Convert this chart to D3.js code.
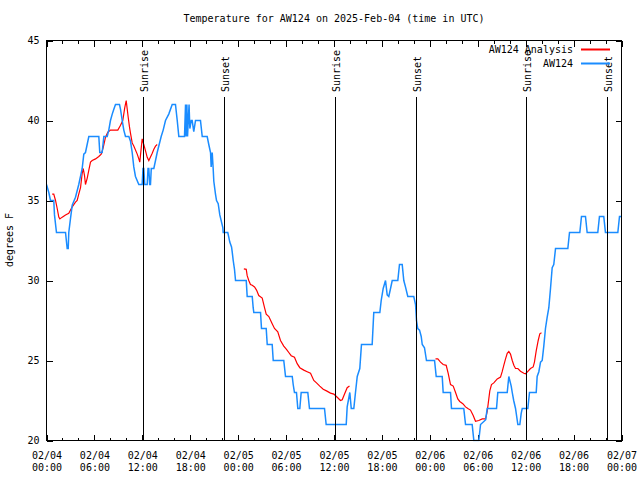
<!DOCTYPE html>
<html><head><meta charset="utf-8">
<script src="https://cdn.jsdelivr.net/npm/d3@7"></script>
<style>
html,body{margin:0;padding:0;background:#fff;}
svg{display:block;}
text{font-family:"DejaVu Sans Mono","Liberation Mono",monospace;font-size:10px;fill:#000;}
</style></head><body>
<svg id="chart" width="640" height="480"></svg>
<script>
const chartTitle = "Temperature for AW124 on 2025-Feb-04 (time in UTC)";
const yAxisLabel = "degrees F";
const seriesNames = ["AW124 Analysis", "AW124"];
const seriesColors = ["#ff0000", "#1a8cff"];

const xTickHours = [0,6,12,18,24,30,36,42,48,54,60,66,72];
const xTickDays  = ["02/04","02/04","02/04","02/04","02/05","02/05","02/05","02/05","02/06","02/06","02/06","02/06","02/07"];
const xTickTimes = ["00:00","06:00","12:00","18:00","00:00","06:00","12:00","18:00","00:00","06:00","12:00","18:00","00:00"];
const yTickValues = [20,25,30,35,40,45];

const sunriseHours = [12.05, 36.07, 60.02];
const sunsetHours  = [22.2, 46.27, 70.2];

// AW124 observations: [hours since 02/04 00:00 UTC, deg F]
const aw124 = [[0.00,36.0],[0.29,35.5],[0.50,35.0],[0.91,35.0],[1.00,34.1],[1.25,33.0],[2.38,33.0],[2.59,32.0],[2.72,32.0],[2.79,33.0],[3.01,33.9],[3.22,34.7],[3.63,35.2],[4.04,36.0],[4.47,37.0],[4.67,37.9],[4.88,38.0],[5.30,39.0],[6.55,39.0],[6.67,38.0],[6.97,38.0],[7.18,39.0],[7.60,39.0],[7.80,39.4],[8.01,40.0],[8.23,40.4],[8.43,40.7],[8.64,41.0],[9.14,41.0],[9.27,40.7],[9.48,40.0],[9.68,39.4],[9.89,39.0],[10.31,39.0],[10.52,38.7],[10.73,38.0],[10.93,37.1],[11.14,36.5],[11.56,36.0],[11.98,36.0],[12.08,37.0],[12.18,37.0],[12.30,36.0],[12.61,36.0],[12.71,37.0],[12.81,37.0],[12.92,36.0],[13.02,36.0],[13.12,37.0],[13.44,37.0],[13.65,37.5],[13.86,38.0],[14.36,39.0],[14.61,39.4],[14.90,40.0],[15.31,40.4],[15.74,41.0],[16.15,41.0],[16.37,40.0],[16.57,39.0],[17.28,39.0],[17.41,41.0],[17.48,39.0],[17.58,41.0],[17.66,39.0],[17.85,41.0],[17.95,39.5],[18.12,40.0],[18.24,40.0],[18.44,39.3],[18.66,40.0],[19.28,40.0],[19.50,39.0],[20.12,39.0],[20.32,38.5],[20.54,38.0],[20.62,37.1],[20.75,38.0],[20.87,37.0],[20.95,36.2],[21.16,35.4],[21.29,35.0],[21.50,34.8],[21.70,34.1],[22.08,33.3],[22.13,33.0],[22.70,33.0],[22.83,32.7],[22.95,32.4],[23.17,32.1],[23.25,31.8],[23.38,31.25],[23.54,30.7],[23.67,30.0],[25.01,30.0],[25.13,29.0],[25.76,29.0],[25.88,28.3],[25.96,28.0],[26.80,28.0],[26.92,27.0],[27.51,27.0],[27.64,26.0],[28.26,26.0],[28.39,25.0],[29.71,25.0],[29.93,24.0],[30.77,24.0],[30.89,23.5],[31.05,23.0],[31.30,23.0],[31.47,22.0],[31.72,22.0],[31.89,23.0],[32.72,23.0],[32.93,22.0],[34.81,22.0],[35.02,21.0],[37.53,21.0],[37.65,22.1],[37.98,23.0],[38.16,22.0],[38.48,22.0],[38.69,23.0],[38.91,24.0],[39.23,24.5],[39.44,26.0],[40.78,26.0],[40.98,28.0],[41.74,28.0],[41.91,28.75],[42.16,29.5],[42.45,30.0],[42.66,29.1],[42.86,29.0],[43.08,29.5],[43.29,30.0],[43.99,30.0],[44.20,31.0],[44.54,31.0],[44.74,30.0],[44.95,29.6],[45.24,29.0],[45.99,29.0],[46.21,28.5],[46.33,27.5],[46.49,27.0],[46.71,26.9],[46.92,26.5],[47.05,26.0],[47.33,25.8],[47.58,25.0],[48.59,25.0],[48.80,24.0],[49.55,24.0],[49.67,23.0],[50.59,23.0],[50.71,22.0],[52.25,22.0],[52.47,21.0],[53.30,21.0],[53.51,20.0],[54.13,20.0],[54.35,21.0],[55.00,21.3],[55.18,22.0],[56.35,22.0],[56.51,23.0],[57.69,23.0],[57.89,24.0],[58.19,23.4],[58.32,23.0],[58.50,22.5],[58.73,22.0],[59.02,21.0],[59.27,21.0],[59.44,21.7],[59.57,22.0],[60.27,22.0],[60.48,23.0],[61.32,23.0],[61.44,24.0],[61.65,24.3],[61.86,24.9],[62.07,25.0],[62.27,25.9],[62.48,27.0],[62.69,27.7],[62.90,28.3],[63.11,29.5],[63.32,30.8],[63.52,31.0],[63.74,32.0],[65.28,32.0],[65.49,33.0],[66.78,33.0],[66.99,34.0],[67.49,34.0],[67.70,33.0],[69.03,33.0],[69.24,34.0],[69.78,34.0],[69.99,33.0],[71.54,33.0],[71.75,34.0],[72.00,34.0]];

// AW124 analysis, three separate runs
const analysisRun1 = [[0.71,35.4],[0.91,35.4],[1.13,35.0],[1.34,34.5],[1.54,33.96],[1.67,33.85],[1.97,33.96],[2.38,34.1],[2.79,34.2],[3.22,34.6],[3.63,34.9],[3.84,35.0],[4.04,35.4],[4.26,35.8],[4.47,36.7],[4.60,37.0],[4.76,36.56],[4.88,36.0],[5.10,36.4],[5.30,36.9],[5.51,37.4],[5.72,37.5],[6.14,37.6],[6.55,37.75],[6.85,37.9],[7.10,38.3],[7.39,38.96],[7.68,39.27],[8.01,39.4],[8.43,39.4],[8.93,39.4],[9.27,39.7],[9.55,40.0],[9.80,40.8],[9.98,41.25],[10.11,40.7],[10.23,40.2],[10.39,39.6],[10.52,39.2],[10.73,38.6],[10.93,38.4],[11.36,37.9],[11.56,37.6],[11.68,37.4],[11.98,38.85],[12.18,38.5],[12.40,38.1],[12.61,37.7],[12.81,37.5],[13.24,37.96],[13.44,38.2],[13.65,38.4],[13.86,38.5]];
const analysisRun2 = [[24.71,30.73],[25.01,30.7],[25.13,30.3],[25.33,30.0],[25.54,29.75],[25.76,29.7],[26.05,29.6],[26.30,29.4],[26.58,29.06],[27.01,28.9],[27.30,28.3],[27.51,27.9],[27.84,27.75],[28.26,27.3],[28.55,27.0],[28.96,26.8],[29.30,26.25],[29.71,25.9],[30.05,25.7],[30.34,25.5],[30.64,25.3],[31.05,25.2],[31.39,24.8],[31.72,24.55],[32.22,24.4],[32.64,24.3],[33.06,24.2],[33.47,23.75],[33.81,23.6],[34.22,23.4],[34.65,23.2],[35.06,23.1],[35.56,22.96],[35.98,22.9],[36.40,22.7],[36.81,22.5],[37.03,22.55],[37.32,22.9],[37.65,23.3],[37.94,23.4]];
const analysisRun3 = [[48.71,25.1],[49.00,25.1],[49.34,24.9],[49.67,24.75],[50.05,24.7],[50.30,24.2],[50.59,23.5],[50.93,23.4],[51.22,23.0],[51.50,22.6],[51.75,22.44],[52.13,22.3],[52.47,22.1],[52.76,22.0],[53.09,21.9],[53.43,21.56],[53.72,21.2],[54.13,21.25],[54.56,21.35],[54.97,21.35],[55.18,21.8],[55.31,22.3],[55.51,23.1],[55.72,23.5],[56.01,23.6],[56.44,23.85],[56.85,23.96],[57.06,24.3],[57.26,24.7],[57.48,25.1],[57.69,25.45],[57.89,25.56],[58.10,25.4],[58.32,25.0],[58.52,24.7],[58.73,24.5],[59.02,24.5],[59.35,24.33],[59.77,24.2],[59.98,24.17],[60.19,24.27],[60.60,24.5],[60.94,24.6],[61.10,24.9],[61.32,25.6],[61.57,26.25],[61.77,26.67],[61.98,26.73]];

const svg = d3.select("#chart");
const L = 46.5, R = 621.5, T = 40.5, B = 440.5;
const x = d3.scaleLinear().domain([0,72]).range([L,R]);
const y = d3.scaleLinear().domain([20,45]).range([B,T]);

// title
svg.append("text").attr("x", 334).attr("y", 22).attr("text-anchor","middle").text(chartTitle);
// y label
svg.append("text").attr("transform","translate(13,240) rotate(-90)").attr("text-anchor","middle").text(yAxisLabel);

const minorHours = d3.range(0,73,2).filter(h => h % 6 !== 0);

// axes (ticks inward)
const gB = svg.append("g").attr("transform",`translate(0,${B})`)
  .call(d3.axisBottom(x).tickValues(xTickHours).tickSizeInner(-6).tickSizeOuter(0).tickFormat(""));
svg.append("g").attr("transform",`translate(0,${B})`)
  .call(d3.axisBottom(x).tickValues(minorHours).tickSizeInner(-3).tickSizeOuter(0).tickFormat(""));
svg.append("g").attr("transform",`translate(0,${T})`)
  .call(d3.axisTop(x).tickValues(xTickHours).tickSizeInner(-6).tickSizeOuter(0).tickFormat(""));
svg.append("g").attr("transform",`translate(0,${T})`)
  .call(d3.axisTop(x).tickValues(minorHours).tickSizeInner(-3).tickSizeOuter(0).tickFormat(""));
svg.append("g").attr("transform",`translate(${L},0)`)
  .call(d3.axisLeft(y).tickValues(yTickValues).tickSizeInner(-6).tickSizeOuter(0).tickPadding(7).tickFormat(d3.format("d")));
svg.append("g").attr("transform",`translate(${R},0)`)
  .call(d3.axisRight(y).tickValues(yTickValues).tickSizeInner(-6).tickSizeOuter(0).tickFormat(""));
svg.selectAll(".domain").remove();
svg.selectAll(".tick line").attr("stroke","#000").attr("shape-rendering","crispEdges");
svg.selectAll(".tick text").style("font-family",'"DejaVu Sans Mono","Liberation Mono",monospace').style("font-size","10px").attr("fill","#000");

// two-line x labels
gB.selectAll(".tick").each(function(d, i) {
  const t = d3.select(this).append("text").attr("text-anchor","middle").attr("y", 18)
    .style("font-family",'"DejaVu Sans Mono","Liberation Mono",monospace').style("font-size","10px").attr("fill","#000");
  t.append("tspan").attr("x",0).text(xTickDays[i]);
  t.append("tspan").attr("x",0).attr("dy",12).text(xTickTimes[i]);
});

// data
svg.append("clipPath").attr("id","plotclip").append("rect")
  .attr("x",L).attr("y",T-1).attr("width",R-L).attr("height",B-T+2);
const line = d3.line().x(d => x(d[0])).y(d => y(d[1]));
const plot = svg.append("g").attr("clip-path","url(#plotclip)");
[analysisRun1, analysisRun2, analysisRun3].forEach(run => {
  plot.append("path").datum(run).attr("d", line).attr("fill","none")
    .attr("stroke", seriesColors[0]).attr("stroke-width",1.2);
});
plot.append("path").datum(aw124).attr("d", line).attr("fill","none")
  .attr("stroke", seriesColors[1]).attr("stroke-width",1.5);

// sunrise / sunset markers
const events = sunriseHours.map(h => ({h, label:"Sunrise"}))
  .concat(sunsetHours.map(h => ({h, label:"Sunset"})));
events.forEach(e => {
  const px = Math.round(x(e.h)) + 0.5;
  svg.append("line").attr("x1",px).attr("x2",px).attr("y1",97).attr("y2",B)
    .attr("stroke","#000").attr("stroke-width",1).attr("shape-rendering","crispEdges");
  svg.append("text").attr("transform",`translate(${px + 0.5},92) rotate(-90)`)
    .attr("text-anchor","start").attr("dy","0.35em").text(e.label);
});

// frame
svg.append("rect").attr("x",L).attr("y",T).attr("width",R-L).attr("height",B-T)
  .attr("fill","none").attr("stroke","#000").attr("shape-rendering","crispEdges");

// legend
seriesNames.forEach((name, i) => {
  const ly = 49 + i * 14;
  svg.append("text").attr("x",573).attr("y",ly).attr("dy","0.35em").attr("text-anchor","end").text(name);
  svg.append("line").attr("x1",581).attr("x2",610).attr("y1",ly+0.5).attr("y2",ly+0.5)
    .attr("stroke",seriesColors[i]).attr("stroke-width",2);
});
</script>
</body></html>
